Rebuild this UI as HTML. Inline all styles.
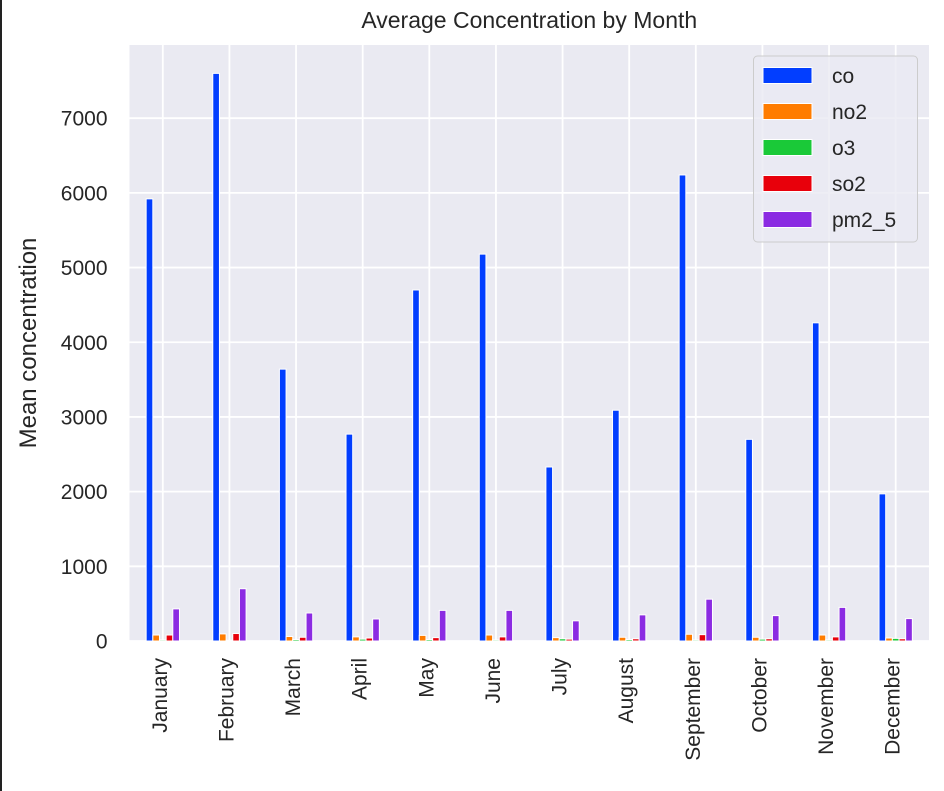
<!DOCTYPE html>
<html><head><meta charset="utf-8"><style>
body{margin:0;background:#fff;font-family:"Liberation Sans",sans-serif;}
#wrap{position:relative;width:944px;height:791px;overflow:hidden;}
</style></head><body>
<div id="wrap">
<svg id="chart" width="944" height="791" xmlns="http://www.w3.org/2000/svg">
<line x1="1" y1="0" x2="1" y2="791" stroke="#222" stroke-width="2"/>
</svg>
</div>
<script>
const months=["January","February","March","April","May","June","July","August","September","October","November","December"];
const seriesNames=["co","no2","o3","so2","pm2_5"];
const coVals=[5920,7600,3640,2770,4700,5180,2330,3090,6240,2700,4260,1970];
const no2Vals=[80,95,60,55,75,80,45,50,90,50,80,40];
const o3Vals=[15,10,20,25,20,15,30,20,15,25,15,35];
const so2Vals=[80,100,50,40,45,55,25,30,85,30,55,30];
const pmVals=[430,700,375,295,410,410,270,350,560,340,450,300];
const yTicks=[0,1000,2000,3000,4000,5000,6000,7000];
const colors=["#023eff","#ff7c00","#1ac938","#e8000b","#8b2be2"];
const allSeries=[coVals,no2Vals,o3Vals,so2Vals,pmVals];

const NS="http://www.w3.org/2000/svg";
const svg=document.getElementById('chart');
const L=129.5,R=929,T=45,B=641;
const yMax=Math.max(...coVals)*1.05;
const yS=v=>B-(v/yMax)*(B-T);
const gw=(R-L)/months.length;
const xC=i=>L+gw*(i+0.5);
function mk(tag,attrs,parent){const e=document.createElementNS(NS,tag);for(const k in attrs)e.setAttribute(k,attrs[k]);(parent||svg).appendChild(e);return e;}

const bg=mk('rect',{x:L,y:T,width:R-L,height:B-T,fill:'#eaeaf2'});


yTicks.forEach(t=>{
  const y=yS(t);
  const g=mk('line',{x1:L,x2:R,y1:y,y2:y,stroke:'#fff','stroke-width':1.8});
  
  
  const tx=mk('text',{x:L-22,y:y+7.5,'text-anchor':'end','font-size':21,fill:'#262626'});
  tx.textContent=t;
  
  
});
months.forEach((m,i)=>{
  const x=xC(i);
  const g=mk('line',{x1:x,x2:x,y1:T,y2:B,stroke:'#fff','stroke-width':1.8});
  
  
  const tx=mk('text',{x:0,y:0,'text-anchor':'end','font-size':21,fill:'#262626',transform:`translate(${x+4},${B+17}) rotate(-90)`});
  tx.textContent=m;
  
  
});
const bw=gw*0.5/seriesNames.length;
allSeries.forEach((vals,s)=>{
  vals.forEach((v,i)=>{
    const x=xC(i)-gw*0.25+s*bw;
    const r=mk('rect',{x:x,y:yS(v),width:bw,height:B-yS(v),fill:colors[s],stroke:'#fff','stroke-width':1});
    
    
  });
});
const title=mk('text',{x:(L+R)/2,y:28,'text-anchor':'middle','font-size':23,fill:'#262626'});
title.textContent='Average Concentration by Month';


const yl=mk('text',{x:0,y:0,'text-anchor':'middle','font-size':24,fill:'#262626',transform:`translate(36,${(T+B)/2}) rotate(-90)`});
yl.textContent='Mean concentration';


const lg=mk('rect',{x:753.5,y:56,width:164,height:186,rx:4,fill:'#eaeaf2','fill-opacity':0.8,stroke:'#ccc','stroke-width':1});


seriesNames.forEach((n,s)=>{
  const cy=75.5+s*36;
  const sw=mk('rect',{x:763,y:cy-8,width:49,height:16,fill:colors[s],stroke:'#fff','stroke-width':1});
  
  
  const tx=mk('text',{x:832,y:cy+7.5,'font-size':21,fill:'#262626'});
  tx.textContent=n;
  
  
});
</script>
</body></html>
